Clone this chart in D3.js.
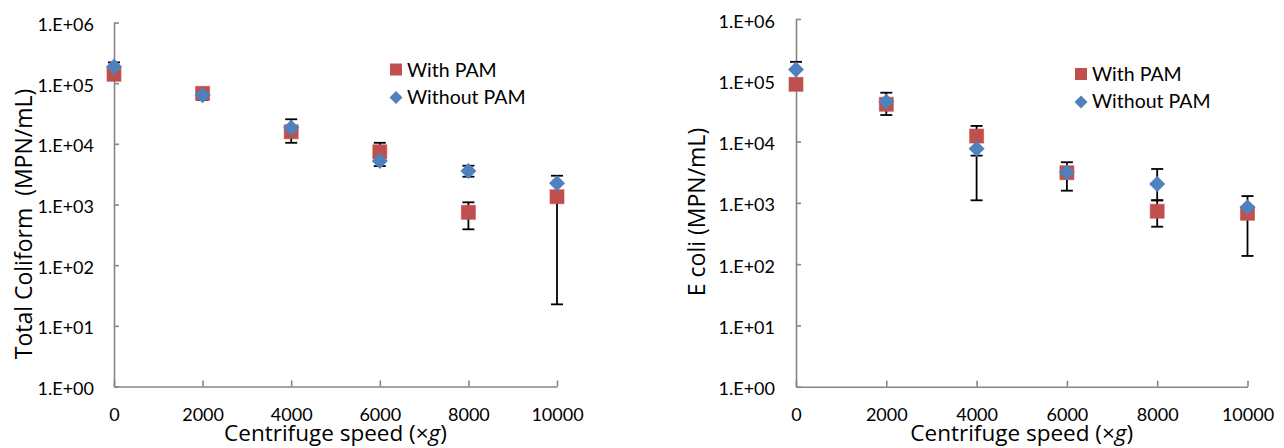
<!DOCTYPE html>
<html><head><meta charset="utf-8">
<script src="https://cdn.jsdelivr.net/npm/d3@7"></script>
<style>
html,body{margin:0;padding:0;background:#fff;}
text{font-family:Lato,"Open Sans",sans-serif;fill:#000;}
.ttl{font-family:"Open Sans",Lato,sans-serif;}
</style></head>
<body><svg id="c" width="1284" height="448"></svg>
<script>
// ---- data ----
const speeds = [0, 2000, 4000, 6000, 8000, 10000];
const xTickValues = [0, 2000, 4000, 6000, 8000, 10000];
const yTickValues = [1, 10, 100, 1000, 10000, 100000, 1000000];
const seriesNames = ["With PAM", "Without PAM"];

// Total coliform
const coliformWith    = [140000, 68000, 15800, 7400, 743, 1343];
const coliformWithLo  = [140000, 53000, 10400, 6000, 390, 22.6];
const coliformWithHi  = [140000, 76000, 15800, 10400, 1087, 1343];
const coliformWithout   = [187000, 63000, 18400, 5200, 3560, 2230];
const coliformWithoutLo = [187000, 63000, 18400, 4300, 2870, 2230];
const coliformWithoutHi = [220000, 63000, 25400, 5200, 4360, 2980];

// E coli
const ecoliWith    = [86000, 40600, 12300, 3100, 730, 676];
const ecoliWithLo  = [86000, 27100, 5900, 1580, 408, 136];
const ecoliWithHi  = [86000, 40600, 18000, 4600, 1100, 676];
const ecoliWithout   = [150000, 44700, 7600, 3150, 2030, 846];
const ecoliWithoutLo = [150000, 44700, 1100, 3150, 1100, 846];
const ecoliWithoutHi = [200000, 62700, 7600, 3150, 3570, 1290];

const RED = "#C0504D", BLUE = "#4F81BD", AXIS = "#868686";
const svg = d3.select("#c");
svg.append("rect").attr("width",1284).attr("height",448).attr("fill","#fff");

function fmt(d){ return "1.E+" + String(Math.round(Math.log10(d))).padStart(2,"0"); }

function panel(cfg){
  const x = d3.scaleLinear().domain([0,10000]).range(cfg.xr);
  const y = d3.scaleLog().domain([1,1e6]).range(cfg.yr);
  const g = svg.append("g");

  const ya = g.append("g").attr("transform",`translate(${cfg.xr[0]},0)`)
    .call(d3.axisLeft(y).tickValues(yTickValues).tickFormat(fmt).tickSizeInner(-5).tickSizeOuter(0).tickPadding(cfg.yPad));
  const xa = g.append("g").attr("transform",`translate(0,${cfg.yr[0]})`)
    .call(d3.axisBottom(x).tickValues(xTickValues).tickFormat(d3.format("d")).tickSizeInner(-6).tickSizeOuter(0));
  [ya,xa].forEach(a=>{
    a.select(".domain").attr("stroke",AXIS).attr("stroke-width",1.6);
    a.selectAll(".tick line").attr("stroke",AXIS).attr("stroke-width",1.6);
    a.selectAll("text").style("font-size","18px").attr("fill","#000");
  });
  ya.selectAll("text").attr("dy","0.45em");
  xa.selectAll("text").attr("y",34).attr("dy",0);

  // error bars
  const cap = 6;
  function bars(vals, lo, hi){
    speeds.forEach((s,i)=>{
      const cx = x(s);
      [lo[i], hi[i]].forEach(b=>{
        if (b === vals[i]) return;
        g.append("line").attr("x1",cx).attr("x2",cx).attr("y1",y(vals[i])).attr("y2",y(b))
          .attr("stroke","#000").attr("stroke-width",1.8);
        g.append("line").attr("x1",cx-cap).attr("x2",cx+cap).attr("y1",y(b)).attr("y2",y(b))
          .attr("stroke","#000").attr("stroke-width",1.8);
      });
    });
  }
  bars(cfg.w, cfg.wLo, cfg.wHi);
  bars(cfg.wo, cfg.woLo, cfg.woHi);

  // markers
  const sq = 14;
  g.selectAll(".sq").data(cfg.w).join("rect")
    .attr("x",(d,i)=>x(speeds[i])-sq/2).attr("y",d=>y(d)-sq/2)
    .attr("width",sq).attr("height",sq).attr("fill",RED).attr("stroke",RED).attr("stroke-opacity",0.6).attr("stroke-width",1);
  const dm = 8;
  g.selectAll(".dm").data(cfg.wo).join("path")
    .attr("d",(d,i)=>{const cx=x(speeds[i]), cy=y(d); return `M${cx},${cy-dm}L${cx+dm},${cy}L${cx},${cy+dm}L${cx-dm},${cy}Z`;})
    .attr("fill",BLUE);

  // legend
  const L = cfg.leg;
  g.append("rect").attr("x",L[0]-6).attr("y",L[1]-6).attr("width",12).attr("height",12).attr("fill",RED);
  g.append("path").attr("d",`M${L[0]},${L[1]+28-6.5}L${L[0]+6.5},${L[1]+28}L${L[0]},${L[1]+28+6.5}L${L[0]-6.5},${L[1]+28}Z`).attr("fill",BLUE);
  g.append("text").attr("x",L[0]+11).attr("y",L[1]+7).style("font-size","19.5px").text(seriesNames[0]);
  g.append("text").attr("x",L[0]+11).attr("y",L[1]+34).style("font-size","19.5px").text(seriesNames[1]);

  // titles
  const xt = g.append("text").attr("class","ttl").attr("x",(cfg.xr[0]+cfg.xr[1])/2).attr("y",441).attr("text-anchor","middle").style("font-size","22.5px");
  xt.append("tspan").text("Centrifuge speed (×");
  xt.append("tspan").style("font-style","italic").text("g");
  xt.append("tspan").text(")");
  g.append("text").attr("class","ttl").attr("transform",`translate(${cfg.ytx},${cfg.yty}) rotate(-90)`).attr("text-anchor","middle")
    .style("font-size","23px").style("white-space","pre").text(cfg.ytitle);
}

panel({xr:[114,557], yr:[386.5,22.5], yPad:20, w:coliformWith, wLo:coliformWithLo, wHi:coliformWithHi,
  wo:coliformWithout, woLo:coliformWithoutLo, woHi:coliformWithoutHi, leg:[396,69.5],
  ytx:32, yty:224, ytitle:"Total Coliform  (MPN/mL)"});
panel({xr:[796,1247.5], yr:[386.7,19], yPad:21, w:ecoliWith, wLo:ecoliWithLo, wHi:ecoliWithHi,
  wo:ecoliWithout, woLo:ecoliWithoutLo, woHi:ecoliWithoutHi, leg:[1081,74],
  ytx:705, yty:212, ytitle:"E coli (MPN/mL)"});
</script></body></html>
